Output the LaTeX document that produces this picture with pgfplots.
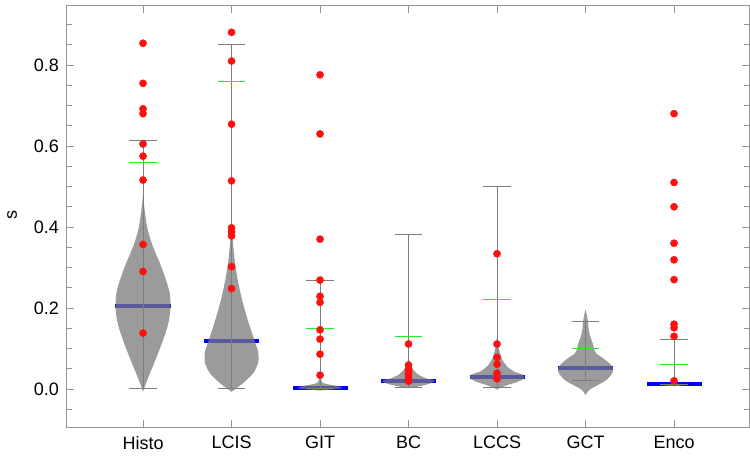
\documentclass[border=0pt]{standalone}
\usepackage{fontspec}
\setmainfont{Liberation Sans}
\usepackage{pgfplots}
\pgfplotsset{compat=1.18}

\definecolor{framegray}{RGB}{150,150,150}
\definecolor{whisk}{RGB}{125,125,125}
\definecolor{violinfill}{RGB}{121,121,121}
\definecolor{meangreen}{RGB}{40,235,40}
\definecolor{medblue}{RGB}{0,0,255}
\definecolor{dotred}{RGB}{255,15,15}

\begin{document}
\fontsize{18bp}{21bp}\selectfont
\begin{tikzpicture}
\path[use as bounding box] (-67bp,-32bp) rectangle (683bp,427bp);
\begin{axis}[
  at={(0,0)}, anchor=south west,
  scale only axis, width=682bp, height=421bp,
  xmin=0.141, xmax=7.847, ymin=-0.094, ymax=0.946,
  xtick={1,2,3,4,5,6,7},
  xticklabels={Histo,LCIS,GIT,BC,LCCS,GCT,Enco},
  ytick={0,0.2,0.4,0.6,0.8},
  minor ytick={-0.05,0.05,0.1,0.15,0.25,0.3,0.35,0.45,0.5,0.55,0.65,0.7,0.75,0.85,0.9},
  xticklabel style={yshift=-3bp},
  yticklabel style={xshift=-2bp, /pgf/number format/.cd, fixed, fixed zerofill, precision=1, assume math mode=true},
  tick align=inside,
  major tick length=7bp, minor tick length=5bp,
  x tick style={framegray, line width=0.8bp},
  y tick style={framegray, line width=0.8bp},
  axis line style={framegray, line width=1bp},
  ticklabel style={font=\fontsize{18bp}{21bp}\selectfont},
  ylabel={s},
  ylabel style={at={(axis description cs:-0.0806,0.504)}, anchor=center, font=\fontsize{18bp}{21bp}\selectfont},
  unbounded coords=jump,
]

% medians (drawn first, the violins lie over them)
\addplot[medblue, line width=4bp] coordinates {
  (0.689,0.204) (1.311,0.204) (nan,nan)
  (1.689,0.118) (2.311,0.118) (nan,nan)
  (2.689,0.003) (3.311,0.003) (nan,nan)
  (3.689,0.019) (4.311,0.019) (nan,nan)
  (4.689,0.030) (5.311,0.030) (nan,nan)
  (5.689,0.052) (6.311,0.052) (nan,nan)
  (6.689,0.011) (7.311,0.011)
};

% violins
\pgfplotsset{violin/.style={draw=none, fill=violinfill, fill opacity=0.75, smooth, tension=0.45}}
\addplot[violin] coordinates {
  (1,-0.007) (1.034,0.014) (1.079,0.039) (1.141,0.072) (1.198,0.104) (1.254,0.138)
  (1.294,0.170) (1.311,0.205) (1.302,0.236) (1.260,0.269) (1.192,0.310) (1.113,0.351)
  (1.053,0.393) (1.023,0.434) (1.009,0.46) (1,0.48)
  (0.991,0.46) (0.977,0.434) (0.947,0.393) (0.887,0.351) (0.808,0.310) (0.740,0.269)
  (0.698,0.236) (0.689,0.205) (0.706,0.170) (0.746,0.138) (0.802,0.104) (0.859,0.072)
  (0.921,0.039) (0.966,0.014) (1,-0.007)
};
\addplot[violin] coordinates {
  (2,-0.007) (2.056,0.002) (2.150,0.018) (2.245,0.039) (2.299,0.063) (2.305,0.080)
  (2.297,0.095) (2.263,0.117) (2.207,0.154) (2.150,0.195) (2.102,0.236) (2.064,0.277)
  (2.035,0.319) (2.014,0.368) (2,0.42)
  (1.986,0.368) (1.965,0.319) (1.936,0.277) (1.898,0.236) (1.850,0.195) (1.793,0.154)
  (1.737,0.117) (1.703,0.095) (1.695,0.080) (1.701,0.063) (1.755,0.039) (1.850,0.018)
  (1.944,0.002) (2,-0.007)
};
\addplot[violin] coordinates {
  (3,-0.004) (3.25,0.002) (3.18,0.008) (3.10,0.011) (3.03,0.015) (3.01,0.025) (3,0.035)
  (2.99,0.025) (2.97,0.015) (2.90,0.011) (2.82,0.008) (2.75,0.002) (3,-0.004)
};
\addplot[violin] coordinates {
  (4,0.002) (4.132,0.007) (4.254,0.014) (4.294,0.021) (4.203,0.026) (4.113,0.035)
  (4.056,0.047) (4.015,0.063) (4,0.08)
  (3.985,0.063) (3.944,0.047) (3.887,0.035) (3.797,0.026) (3.706,0.021) (3.746,0.014)
  (3.868,0.007) (4,0.002)
};
\addplot[violin] coordinates {
  (5,-0.002) (5.028,0.002) (5.124,0.010) (5.237,0.018) (5.305,0.026) (5.294,0.035)
  (5.192,0.043) (5.116,0.055) (5.060,0.072) (5.034,0.088) (5.011,0.11) (5,0.13)
  (4.989,0.11) (4.966,0.088) (4.940,0.072) (4.884,0.055) (4.808,0.043) (4.706,0.035)
  (4.695,0.026) (4.763,0.018) (4.876,0.010) (4.972,0.002) (5,-0.002)
};
\addplot[violin] coordinates {
  (6,-0.015) (6.045,-0.002) (6.141,0.010) (6.235,0.022) (6.302,0.039) (6.311,0.052)
  (6.271,0.063) (6.198,0.076) (6.119,0.088) (6.096,0.100) (6.081,0.113) (6.054,0.129)
  (6.036,0.146) (6.025,0.170) (6,0.195)
  (5.975,0.170) (5.964,0.146) (5.946,0.129) (5.919,0.113) (5.904,0.100) (5.881,0.088)
  (5.802,0.076) (5.729,0.063) (5.689,0.052) (5.698,0.039) (5.765,0.022) (5.859,0.010)
  (5.955,-0.002) (6,-0.015)
};
\addplot[violin] coordinates {
  (7,0.007) (7.16,0.010) (7,0.013) (6.84,0.010) (7,0.007)
};

% whiskers with caps
\addplot[whisk, line width=1bp] coordinates {
  (1,0) (1,0.613) (nan,nan) (0.845,0) (1.155,0) (nan,nan) (0.845,0.613) (1.155,0.613) (nan,nan)
  (2,0) (2,0.852) (nan,nan) (1.845,0) (2.155,0) (nan,nan) (1.845,0.852) (2.155,0.852) (nan,nan)
  (3,0) (3,0.267) (nan,nan) (2.845,0) (3.155,0) (nan,nan) (2.845,0.267) (3.155,0.267) (nan,nan)
  (4,0.003) (4,0.381) (nan,nan) (3.845,0.003) (4.155,0.003) (nan,nan) (3.845,0.381) (4.155,0.381) (nan,nan)
  (5,0.003) (5,0.500) (nan,nan) (4.845,0.003) (5.155,0.003) (nan,nan) (4.845,0.500) (5.155,0.500) (nan,nan)
  (6,0.020) (6,0.166) (nan,nan) (5.845,0.020) (6.155,0.020) (nan,nan) (5.845,0.166) (6.155,0.166) (nan,nan)
  (7,0.011) (7,0.121) (nan,nan) (6.845,0.011) (7.155,0.011) (nan,nan) (6.845,0.121) (7.155,0.121)
};

% means
\addplot[meangreen, line width=1.1bp] coordinates {
  (0.845,0.560) (1.155,0.560) (nan,nan)
  (1.845,0.760) (2.155,0.760) (nan,nan)
  (2.845,0.150) (3.155,0.150) (nan,nan)
  (3.845,0.130) (4.155,0.130) (nan,nan)
  (4.845,0.220) (5.155,0.220) (nan,nan)
  (5.845,0.100) (6.155,0.100) (nan,nan)
  (6.845,0.061) (7.155,0.061)
};

% individual observations
\addplot[only marks, mark=*, mark size=3.6bp, dotred, mark options={draw=none, fill=dotred}] coordinates {
  (1,0.854) (1,0.755) (1,0.692) (1,0.680) (1,0.605) (1,0.575) (1,0.516) (1,0.357) (1,0.290) (1,0.138)
  (2,0.881) (2,0.810) (2,0.654) (2,0.514) (2,0.398) (2,0.388) (2,0.378) (2,0.302) (2,0.248)
  (3,0.776) (3,0.630) (3,0.370) (3,0.269) (3,0.229) (3,0.214) (3,0.146) (3,0.123) (3,0.086) (3,0.034)
  (4,0.111) (4,0.059) (4,0.047) (4,0.039) (4,0.032) (4,0.025) (4,0.019)
  (5,0.334) (5,0.111) (5,0.078) (5,0.061) (5,0.039) (5,0.025)
  (7,0.680) (7,0.510) (7,0.450) (7,0.360) (7,0.319) (7,0.270) (7,0.160) (7,0.151) (7,0.130) (7,0.020)
};
\end{axis}
\end{tikzpicture}
\end{document}
